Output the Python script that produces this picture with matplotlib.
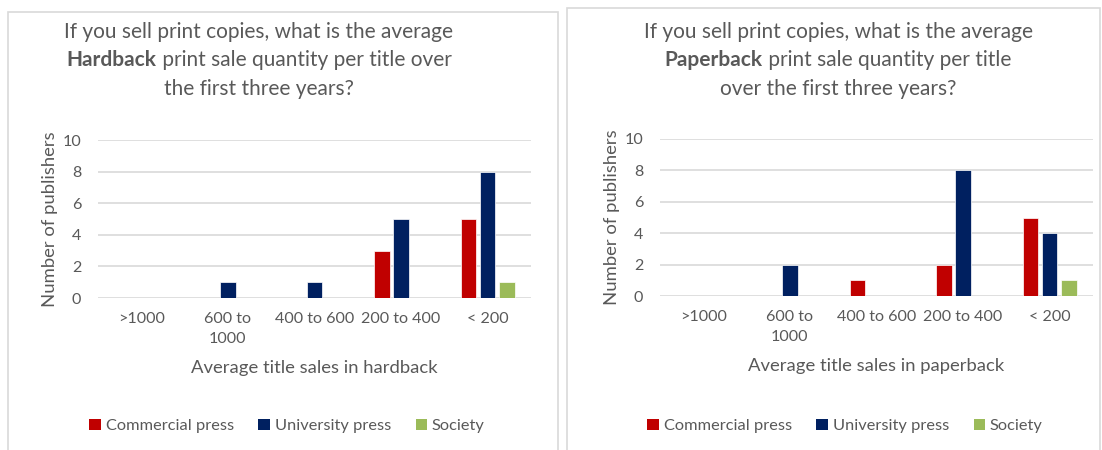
import numpy as np
import matplotlib
matplotlib.use("Agg")
import matplotlib.pyplot as plt
from matplotlib.patches import Rectangle, Patch

# data
categories = [">1000", "600 to\n1000", "400 to 600", "200 to 400", "< 200"]
series = ["Commercial press", "University press", "Society"]
hardback_commercial = [0, 0, 0, 3, 5]
hardback_university = [0, 1, 1, 5, 8]
hardback_society = [0, 0, 0, 0, 1]
paperback_commercial = [0, 0, 1, 2, 5]
paperback_university = [0, 2, 0, 8, 4]
paperback_society = [0, 0, 0, 0, 1]
yticks = [0, 2, 4, 6, 8, 10]

colors = ["#C00000", "#002060", "#9BBB59"]
grey = "#595959"
W, H = 1102, 450

plt.rcParams["font.family"] = ["Lato", "DejaVu Sans"]

fig = plt.figure(figsize=(W / 100, H / 100), dpi=100)


def fx(x):
    return x / W


def fy(y):
    return 1 - y / H


def title_block(cx, top, lines):
    # lines: list of lists of (text, bold) pieces, each line centred at cx
    fig.canvas.draw()
    r = fig.canvas.get_renderer()
    for i, pieces in enumerate(lines):
        y = fy(top + i * 28.5)
        items = []
        for txt, bold in pieces:
            t = fig.text(0, y, txt, fontsize=15, color=grey, va="center",
                         fontweight="bold" if bold else "normal")
            items.append(t)
        widths = [t.get_window_extent(r).width for t in items]
        x = cx - sum(widths) / 2
        for t, w in zip(items, widths):
            t.set_x(fx(x))
            x += w


def panel(box, axbox, data, xlabel, legend_cx, title_cx, title_lines):
    x0, y0, x1, y1 = box
    fig.patches.append(Rectangle((fx(x0), fy(y1)), fx(x1 - x0), (y1 - y0) / H,
                                 transform=fig.transFigure, fill=False,
                                 edgecolor="#D9D9D9", linewidth=1.2))
    l, t, r, b = axbox
    ax = fig.add_axes([fx(l), fy(b), fx(r - l), (b - t) / H])
    x = np.arange(len(categories))
    bw = 0.18
    offs = [-0.22, 0, 0.22]
    for vals, c, off, name in zip(data, colors, offs, series):
        v = np.array(vals, dtype=float)
        m = v > 0
        ax.bar(x[m] + off, v[m], width=bw, color=c, edgecolor="white",
               linewidth=0.5, label=name, zorder=3)
    ax.set_xlim(-0.5, len(categories) - 0.5)
    ax.set_ylim(0, 10)
    ax.set_yticks(yticks)
    ax.set_xticks(x)
    ax.set_xticklabels(categories, linespacing=1.6)
    ax.tick_params(axis="both", length=0, labelsize=11.6, colors=grey)
    ax.tick_params(axis="x", pad=10)
    ax.tick_params(axis="y", pad=12)
    ax.grid(axis="y", color="#D9D9D9", linewidth=1.2, zorder=0)
    for s in ax.spines.values():
        s.set_visible(False)
    ax.set_xlabel(xlabel, fontsize=13.3, color=grey, labelpad=10)
    ax.set_ylabel("Number of publishers", fontsize=13.3, color=grey, labelpad=3)
    handles = [Patch(facecolor=c, edgecolor="none") for c in colors]
    fig.legend(handles, series, loc="center", ncol=3, frameon=False,
               bbox_to_anchor=(fx(legend_cx), fy(426)), fontsize=11.8,
               labelcolor=grey, handlelength=0.7, handleheight=0.7,
               handletextpad=0.3, columnspacing=1.5)
    title_block(title_cx, 32, title_lines)
    return ax


panel((8, 12, 558, 452), (98, 140, 531, 298),
      [hardback_commercial, hardback_university, hardback_society],
      "Average title sales in hardback", 287, 259,
      [[("If you sell print copies, what is the average", False)],
       [("Hardback", True), (" print sale quantity per title over", False)],
       [("the first three years?", False)]])

panel((567, 8, 1100, 452), (660, 139, 1093, 296),
      [paperback_commercial, paperback_university, paperback_society],
      "Average title sales in paperback", 845, 838,
      [[("If you sell print copies, what is the average", False)],
       [("Paperback", True), (" print sale quantity per title", False)],
       [("over the first three years?", False)]])

fig.savefig("out.png", dpi=100)
